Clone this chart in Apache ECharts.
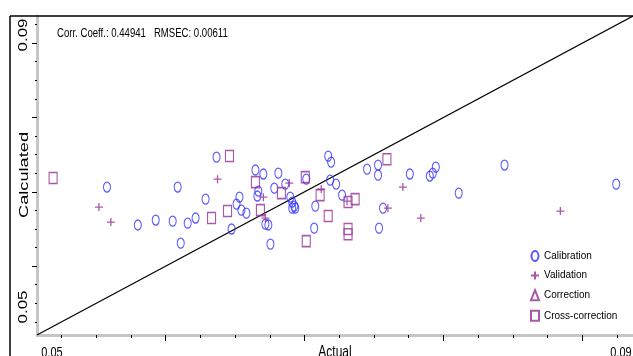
<!DOCTYPE html>
<html>
<head>
<meta charset="utf-8">
<script src="https://cdn.jsdelivr.net/npm/echarts@6/dist/echarts.min.js"></script>
<style>
html,body{margin:0;padding:0;background:#fff;}
#chart{width:633px;height:356px;}
</style>
</head>
<body>
<div id="chart"></div>
<script>
// ---- data ----
const axisMin = 0.05073;
const axisMax = 0.09365;
const majorTicks = [0.06, 0.07, 0.08, 0.09];
const minorTicks = [0.0525, 0.055, 0.0575, 0.0625, 0.065, 0.0675, 0.0725, 0.075, 0.0775, 0.0825, 0.085, 0.0875, 0.0925];
const xTickLabels = ['0.05', '0.09'];
const yTickLabels = ['0.05', '0.09'];
const xAxisName = 'Actual';
const yAxisName = 'Calculated';
const statsText = 'Corr. Coeff.: 0.44941   RMSEC: 0.00611';
const seriesNames = ['Calibration', 'Validation', 'Correction', 'Cross-correction'];

const calibrationX = [0.05577,0.05799,0.05928,0.06050,0.06158,0.06215,0.06086,0.06108,0.06287,0.06366,
  0.06474,0.06531,0.06510,0.06545,0.06581,0.06646,0.06703,0.06667,0.06660,0.06782,
  0.06718,0.06739,0.06754,0.06811,0.06861,0.06897,0.06911,0.06926,0.06911,0.06933,
  0.07012,0.07077,0.07069,0.07170,0.07191,0.07184,0.07227,0.07270,0.07450,0.07529,
  0.07529,0.07565,0.07536,0.07758,0.07902,0.07923,0.07945,0.08110,0.08440,0.09244];
const calibrationY = [0.07063,0.06552,0.06619,0.06605,0.06578,0.06646,0.07063,0.06309,0.06901,0.07466,
  0.06498,0.06928,0.06834,0.06753,0.06713,0.07292,0.07238,0.07009,0.06942,0.07049,
  0.06565,0.06552,0.06296,0.07251,0.07103,0.06928,0.06861,0.06807,0.06780,0.06780,
  0.07170,0.06807,0.06511,0.07480,0.07399,0.07157,0.07103,0.06955,0.07305,0.07359,
  0.07224,0.06780,0.06511,0.07238,0.07211,0.07251,0.07332,0.06982,0.07359,0.07103];

const validationX = [0.05519,0.05605,0.06373,0.06703,0.06718,0.06890,0.07120,0.07306,0.07600,0.07708,0.07837,0.08842];
const validationY = [0.06794,0.06592,0.07170,0.06928,0.06646,0.07117,0.07036,0.06874,0.06780,0.07063,0.06646,0.06740];

const correctionX = [];
const correctionY = [];

const crossX = [0.05189,0.06459,0.06646,0.06330,0.06445,0.06682,0.06833,0.07005,0.07112,0.07012,0.07170,0.07313,0.07364,0.07313,0.07313,0.07593];
const crossY = [0.07184,0.07480,0.07130,0.06646,0.06740,0.06753,0.06982,0.07197,0.06955,0.06336,0.06673,0.06861,0.06901,0.06498,0.06430,0.07439];

// ---- build ----
const zip = (a, b) => a.map((v, i) => [v, b[i]]);
const BLUE = '#3030ff';
const PURPLE = '#952f95';
const ELLIPSE = 'path://M0,5A3.5,5 0 1 1 7,5A3.5,5 0 1 1 0,5Z';
const PLUS = 'path://M0,4H8M4,0V8';

const chart = echarts.init(document.getElementById('chart'), null, {renderer: 'canvas'});

function makeX(ticks, len, showLine) {
  return {
    type: 'value', min: axisMin, max: axisMax, position: 'bottom',
    axisLine: {show: showLine, onZero: false, lineStyle: {color: '#c6c6c6', width: 3}},
    axisTick: {show: true, customValues: ticks, length: len, lineStyle: {color: '#000', width: 1}},
    axisLabel: {show: false}, splitLine: {show: false}
  };
}
function makeY(ticks, len, showLine) {
  return {
    type: 'value', min: axisMin, max: axisMax, position: 'left',
    axisLine: {show: showLine, onZero: false, lineStyle: {color: '#c6c6c6', width: 3}},
    axisTick: {show: true, customValues: ticks, length: len, lineStyle: {color: '#000', width: 1}},
    axisLabel: {show: false}, splitLine: {show: false}
  };
}

const FONT = 'Arial, "Liberation Sans", sans-serif';
function txt(text, x, y, size, opts) {
  return Object.assign({
    type: 'text', x: x, y: y, silent: true, z: 100,
    style: {text: text, fontSize: size, fontFamily: FONT, fill: '#000',
      align: opts.align || 'center', verticalAlign: opts.va || 'middle'}
  }, opts.t || {});
}

const option = {
  animation: false,
  backgroundColor: '#fff',
  grid: {left: 37, top: 16, width: 598, height: 319, containLabel: false},
  xAxis: [makeX(majorTicks, 6, true), makeX(minorTicks, 3, false)],
  yAxis: [makeY(majorTicks, 5, true), makeY(minorTicks, 2, false)],
  legend: {
    orient: 'vertical', left: 525, top: 245, itemWidth: 8, itemHeight: 10, itemGap: 8.6,
    data: seriesNames,
    textStyle: {fontSize: 10, fontFamily: FONT, color: '#000'},
    selectedMode: false
  },
  series: [
    {name: seriesNames[0], type: 'scatter', data: zip(calibrationX, calibrationY), symbol: ELLIPSE, symbolSize: [7, 10],
      itemStyle: {color: 'rgba(0,0,0,0)', borderColor: BLUE, borderWidth: 1.2}, emphasis: {disabled: true}, z: 3},
    {name: seriesNames[1], type: 'scatter', data: zip(validationX, validationY), symbol: PLUS, symbolSize: [8, 8],
      itemStyle: {color: 'rgba(0,0,0,0)', borderColor: PURPLE, borderWidth: 1.3}, emphasis: {disabled: true}, z: 3},
    {name: seriesNames[2], type: 'scatter', data: zip(correctionX, correctionY), symbol: 'triangle', symbolSize: [8, 9],
      itemStyle: {color: 'rgba(0,0,0,0)', borderColor: PURPLE, borderWidth: 1.2}, emphasis: {disabled: true}, z: 3},
    {name: seriesNames[3], type: 'scatter', data: zip(crossX, crossY), symbol: 'rect', symbolSize: [8, 11],
      itemStyle: {color: 'rgba(0,0,0,0)', borderColor: PURPLE, borderWidth: 1.3}, emphasis: {disabled: true}, z: 3},
    {name: 'diag', type: 'line', data: [[axisMin, axisMin], [axisMax, axisMax]], showSymbol: false, symbol: 'none',
      lineStyle: {color: '#000', width: 1.2}, silent: true, z: 2}
  ],
  graphic: [
    {type: 'line', shape: {x1: 10, y1: 16, x2: 633, y2: 16}, style: {stroke: '#000', lineWidth: 1.5}, silent: true, z: 90},
    {type: 'line', shape: {x1: 10, y1: 16, x2: 10, y2: 356}, style: {stroke: '#000', lineWidth: 1.5}, silent: true, z: 90},
    txt(statsText, 57, 33, 9.6, {align: 'left', t: {scaleY: 1.4}}),
    txt(yTickLabels[1], 24, 35, 12.5, {t: {rotation: Math.PI / 2, scaleX: 1.35}}),
    txt(yTickLabels[0], 24, 307, 12.5, {t: {rotation: Math.PI / 2, scaleX: 1.35}}),
    txt(yAxisName, 24, 175, 13, {t: {rotation: Math.PI / 2, scaleX: 1.4}}),
    txt(xTickLabels[0], 52, 345, 11, {va: 'top', t: {scaleY: 1.35}}),
    txt(xTickLabels[1], 621, 345, 11, {va: 'top', t: {scaleY: 1.35}}),
    txt(xAxisName, 335, 344, 12, {va: 'top', t: {scaleY: 1.35}})
  ]
};
chart.setOption(option);
</script>
</body>
</html>
